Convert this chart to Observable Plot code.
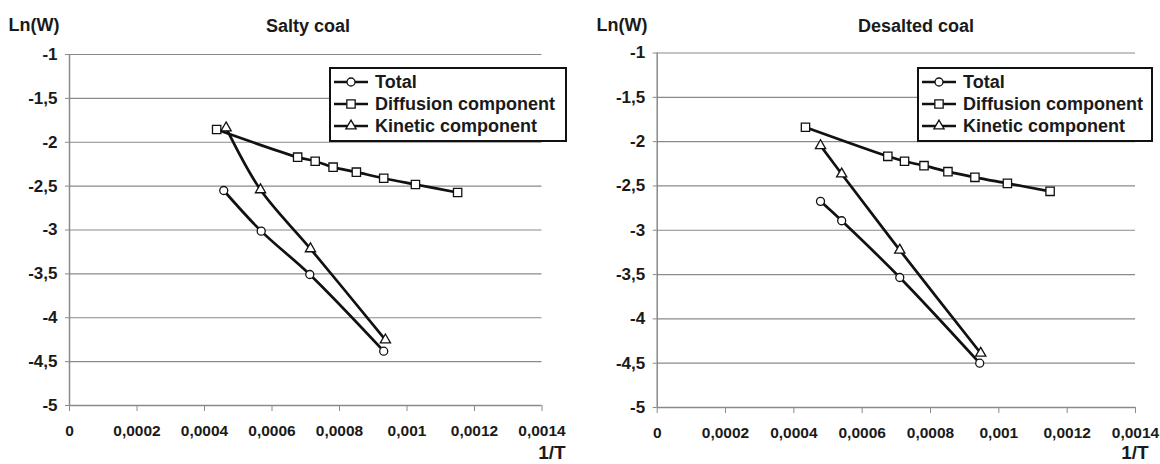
<!DOCTYPE html>
<html><head><meta charset="utf-8">
<script src="https://cdn.jsdelivr.net/npm/d3@7"></script>
<script src="https://cdn.jsdelivr.net/npm/@observablehq/plot@0.6"></script>
<style>
body{margin:0;background:#fff;}
#wrap{position:relative;width:1160px;height:464px;font-family:"Liberation Sans",Arial,sans-serif;color:#1a1a1a;overflow:hidden;}
.panel{position:absolute;top:0;width:580px;height:464px;}
.panel svg{position:absolute;left:0;top:0;}
.t{position:absolute;font-weight:bold;white-space:nowrap;transform:translate(-50%,-50%);line-height:1;}
.legend{position:absolute;border:2px solid #111;background:#fff;box-sizing:border-box;}
.row{position:absolute;left:0;height:22px;font-weight:bold;font-size:18px;line-height:22px;white-space:nowrap;}
.row svg{position:absolute;left:0;top:0;}
.row span{position:absolute;top:0;}
</style></head><body><div id="wrap"></div>
<script>
// ---- data ----
const xTicks = [0, 0.0002, 0.0004, 0.0006, 0.0008, 0.001, 0.0012, 0.0014];
const yTicks = [-5, -4.5, -4, -3.5, -3, -2.5, -2, -1.5, -1];
const seriesNames = ["Total", "Diffusion component", "Kinetic component"];
const panelTitles = ["Salty coal", "Desalted coal"];
const yAxisLabel = "Ln(W)";
const xAxisLabel = "1/T";

// Salty coal
const saltyTotalX = [0.000457, 0.000568, 0.000712, 0.000931];
const saltyTotalY = [-2.55, -3.013, -3.507, -4.381];
const saltyDiffX = [0.000436, 0.000676, 0.000728, 0.000781, 0.00085, 0.000931, 0.001025, 0.00115];
const saltyDiffY = [-1.855, -2.17, -2.216, -2.284, -2.341, -2.41, -2.481, -2.573];
const saltyKinX = [0.000464, 0.000566, 0.000714, 0.000936];
const saltyKinY = [-1.836, -2.542, -3.214, -4.252];

// Desalted coal
const desTotalX = [0.000478, 0.00054, 0.00071, 0.000944];
const desTotalY = [-2.674, -2.893, -3.533, -4.5];
const desDiffX = [0.000434, 0.000675, 0.000724, 0.000781, 0.000851, 0.00093, 0.001025, 0.00115];
const desDiffY = [-1.838, -2.166, -2.222, -2.271, -2.339, -2.403, -2.471, -2.561];
const desKinX = [0.000478, 0.00054, 0.00071, 0.000947];
const desKinY = [-2.045, -2.365, -3.224, -4.388];

// ---- build ----
const toRows = (xs, ys, s) => xs.map((x, i) => ({x, y: ys[i], series: s}));
const panelsData = [
  [toRows(saltyTotalX, saltyTotalY, seriesNames[0]), toRows(saltyDiffX, saltyDiffY, seriesNames[1]), toRows(saltyKinX, saltyKinY, seriesNames[2])],
  [toRows(desTotalX, desTotalY, seriesNames[0]), toRows(desDiffX, desDiffY, seriesNames[1]), toRows(desKinX, desKinY, seriesNames[2])]
];

const symbolStyle = [
  {symbol: "circle", r: 4},
  {symbol: "square", r: 4.7},
  {symbol: "triangle", r: 3.8}
];

const layout = [
  {left: 0, m: {l: 69, r: 38.5, t: 54, b: 59},
   ylab: [34, 25], title: [308, 26], xlab: [552, 452], legend: [329, 67, 238, 75]},
  {left: 580, m: {l: 76.7, r: 25, t: 52.5, b: 57},
   ylab: [42, 25], title: [336, 26], xlab: [555, 452], legend: [337, 67, 236, 75]}
];

const fmt = v => String(v).replace(".", ",");
const gridColor = "#8a8a8a";
const ink = "#111";

const wrap = document.getElementById("wrap");

layout.forEach((L, pi) => {
  const panel = document.createElement("div");
  panel.className = "panel";
  panel.style.left = L.left + "px";
  wrap.appendChild(panel);

  const series = panelsData[pi];
  const all = series.flat();

  const dotMarks = series.map((rows, si) =>
    Plot.dot(rows, {x: "x", y: "y", symbol: () => symbolStyle[si].symbol, r: symbolStyle[si].r,
      fill: "#fff", stroke: ink, strokeWidth: 1.3})
  );

  const chart = Plot.plot({
    width: 580, height: 464,
    marginLeft: L.m.l, marginRight: L.m.r, marginTop: L.m.t, marginBottom: L.m.b,
    x: {domain: [0, 0.0014]},
    y: {domain: [-5, -1]},
    symbol: {type: "identity"},
    style: {background: "transparent", fontFamily: "Liberation Sans, Arial, sans-serif", overflow: "visible"},
    marks: [
      Plot.gridY(yTicks.filter(v => v > -5), {stroke: gridColor, strokeOpacity: 1, strokeWidth: 1.2}),
      Plot.ruleY([-5], {stroke: gridColor, strokeWidth: 1.5}),
      Plot.ruleX([0], {stroke: gridColor, strokeWidth: 1.5}),
      Plot.axisY({ticks: yTicks, tickFormat: fmt, tickSize: 4, tickPadding: 8, stroke: gridColor,
        fill: "#1a1a1a", fontSize: 17, fontWeight: "bold", label: null}),
      Plot.axisX({ticks: xTicks, tickFormat: fmt, tickSize: 6, tickPadding: 13, stroke: gridColor,
        fill: "#1a1a1a", fontSize: 15.5, fontWeight: "bold", label: null}),
      Plot.line(all, {x: "x", y: "y", z: "series", curve: "catmull-rom", stroke: ink, strokeWidth: 2.7}),
      ...dotMarks
    ]
  });
  panel.appendChild(chart);

  const addText = (txt, pos, size) => {
    const d = document.createElement("div");
    d.className = "t";
    d.textContent = txt;
    d.style.left = pos[0] + "px";
    d.style.top = pos[1] + "px";
    d.style.fontSize = size + "px";
    panel.appendChild(d);
  };
  addText(yAxisLabel, L.ylab, 18);
  addText(panelTitles[pi], L.title, 18);
  addText(xAxisLabel, L.xlab, 19);

  const lg = document.createElement("div");
  lg.className = "legend";
  lg.style.left = L.legend[0] + "px";
  lg.style.top = L.legend[1] + "px";
  lg.style.width = L.legend[2] + "px";
  lg.style.height = L.legend[3] + "px";
  seriesNames.forEach((name, si) => {
    const row = document.createElement("div");
    row.className = "row";
    row.style.top = (2 + si * 22) + "px";
    const sv = d3.create("svg").attr("width", 44).attr("height", 22);
    sv.append("line").attr("x1", 3).attr("x2", 37).attr("y1", 11).attr("y2", 11)
      .attr("stroke", ink).attr("stroke-width", 2.7);
    const sym = {circle: d3.symbolCircle, square: d3.symbolSquare, triangle: d3.symbolTriangle}[symbolStyle[si].symbol];
    const rr = symbolStyle[si].r;
    sv.append("path").attr("transform", "translate(20,11)")
      .attr("d", d3.symbol(sym, Math.PI * rr * rr)())
      .attr("fill", "#fff").attr("stroke", ink).attr("stroke-width", 1.3);
    row.appendChild(sv.node());
    const sp = document.createElement("span");
    sp.textContent = name;
    sp.style.left = "44px";
    row.appendChild(sp);
    lg.appendChild(row);
  });
  panel.appendChild(lg);
});
</script></body></html>
